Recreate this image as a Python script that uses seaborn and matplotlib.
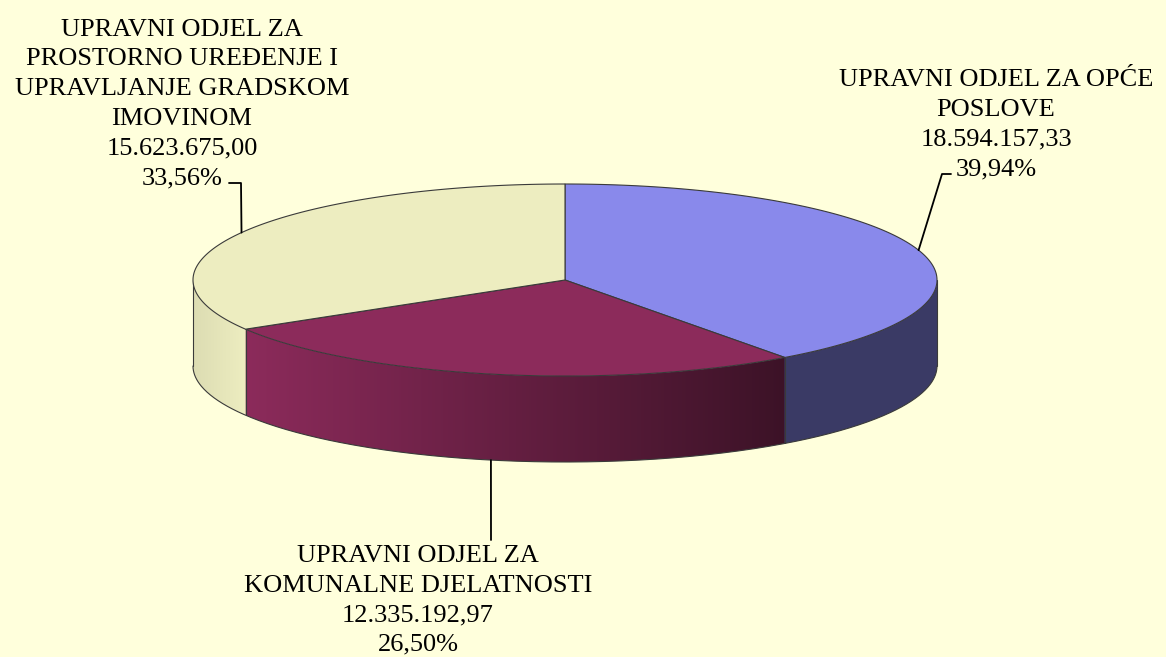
import numpy as np
import seaborn as sns
import matplotlib.pyplot as plt
from matplotlib.path import Path
from matplotlib.patches import PathPatch
from matplotlib.colors import to_rgb

# === DATA ===
DEPARTMENTS = [
    "UPRAVNI ODJEL ZA OPĆE\nPOSLOVE",
    "UPRAVNI ODJEL ZA\nKOMUNALNE DJELATNOSTI",
    "UPRAVNI ODJEL ZA\nPROSTORNO UREĐENJE I\nUPRAVLJANJE GRADSKOM\nIMOVINOM",
]
AMOUNTS = [18594157.33, 12335192.97, 15623675.00]
TOP_COLORS = ["#8989EB", "#8C2B5B", "#EDEDC0"]

# === LAYOUT (pixel units) ===
W, H = 1166, 657
BG = "#FFFFDC"
EDGE = "#3a3a3a"
CX, CY = 565, 280      # centre of the top face
RX, RY = 372, 96       # ellipse radii
DEPTH = 86             # pie thickness
START = 90             # first slice begins at 12 o'clock, clockwise

# label anchor and leader elbow per slice
LABEL_POS = [
    dict(text_xy=(996, 180), va="bottom", elbow=[(942, 174), (951, 174)], on_bottom=False),
    dict(text_xy=(418, 545), va="top", elbow=[(491, 540)], on_bottom=True),
    dict(text_xy=(182, 189), va="bottom", elbow=[(241, 183), (229, 183)], on_bottom=False),
]


def fmt_hr(v, decimals=2):
    s = f"{v:,.{decimals}f}"
    return s.replace(",", "#").replace(".", ",").replace("#", ".")


def ell(theta_deg):
    t = np.radians(theta_deg)
    return CX + RX * np.cos(t), CY - RY * np.sin(t)


def shade(x):
    # lighting of the side wall: light on the left, dark on the right
    x = np.asarray(x, dtype=float)
    left = 0.93 + 0.07 * (x - (CX - RX)) / 52
    right = np.clip(1 - 0.57 * (x - 245) / 540, 0.43, 1.0)
    return np.where(x < 245, left, right)


sns.set_theme(style="white")
plt.rcParams["font.family"] = ["Liberation Serif", "DejaVu Serif"]

fig = plt.figure(figsize=(W / 100, H / 100), dpi=100, facecolor=BG)
ax = fig.add_axes([0, 0, 1, 1])
ax.set_xlim(0, W)
ax.set_ylim(H, 0)
ax.set_facecolor(BG)
ax.axis("off")

total = sum(AMOUNTS)
fracs = [a / total for a in AMOUNTS]
bounds = [START]
for f in fracs:
    bounds.append(bounds[-1] - f * 360)

# --- side wall: gradient image clipped to the front band ---
xs = np.linspace(CX - RX, CX + RX, 1200)
theta = -np.degrees(np.arccos(np.clip((xs - CX) / RX, -1, 1)))  # front half angles
col = np.zeros((len(xs), 3))
for i, base in enumerate(TOP_COLORS):
    hi, lo = bounds[i], bounds[i + 1]
    m = (theta <= hi) & (theta > lo) | (theta + 360 <= hi) & (theta + 360 > lo)
    col[m] = to_rgb(base)
col = np.clip(col * shade(xs)[:, None], 0, 1)
img = np.repeat(col[None, :, :], 4, axis=0)
ylo, yhi = CY - 2, CY + RY + DEPTH + 2
im = ax.imshow(img, extent=(CX - RX, CX + RX, yhi, ylo), aspect="auto",
               interpolation="bilinear", zorder=1)
ts = np.linspace(-180, 0, 400)
tx, ty = ell(ts)
band = np.c_[np.r_[tx, tx[::-1]], np.r_[ty, ty[::-1] + DEPTH]]
clip = PathPatch(Path(band, closed=True), transform=ax.transData, fc="none", ec="none")
ax.add_patch(clip)
im.set_clip_path(clip)

# side outlines
ax.plot(tx, ty + DEPTH, color=EDGE, lw=0.8, zorder=2)
for t in [-180, 0] + [b for b in bounds if -180 < b < 0]:
    x, y = ell(t)
    ax.plot([x, x], [y, y + DEPTH], color=EDGE, lw=0.8, zorder=2)

# --- top face ---
for i, base in enumerate(TOP_COLORS):
    ts = np.linspace(bounds[i], bounds[i + 1], 300)
    ex, ey = ell(ts)
    ax.fill(np.r_[CX, ex], np.r_[CY, ey], color=base, ec=EDGE, lw=0.8, zorder=3)

# --- labels and leader lines ---
for i, (name, amt, f) in enumerate(zip(DEPARTMENTS, AMOUNTS, fracs)):
    lp = LABEL_POS[i]
    mid = (bounds[i] + bounds[i + 1]) / 2
    mx, my = ell(mid)
    if lp["on_bottom"]:
        my += DEPTH
    lx = [mx] + [p[0] for p in lp["elbow"]]
    ly = [my] + [p[1] for p in lp["elbow"]]
    ax.plot(lx, ly, color="black", lw=1.3, zorder=4)
    txt = f"{name}\n{fmt_hr(amt)}\n{fmt_hr(f * 100)}%"
    ax.text(*lp["text_xy"], txt, ha="center", va=lp["va"], fontsize=19,
            linespacing=1.45, color="black", zorder=5)

fig.savefig("out.png", dpi=100, facecolor=BG)
